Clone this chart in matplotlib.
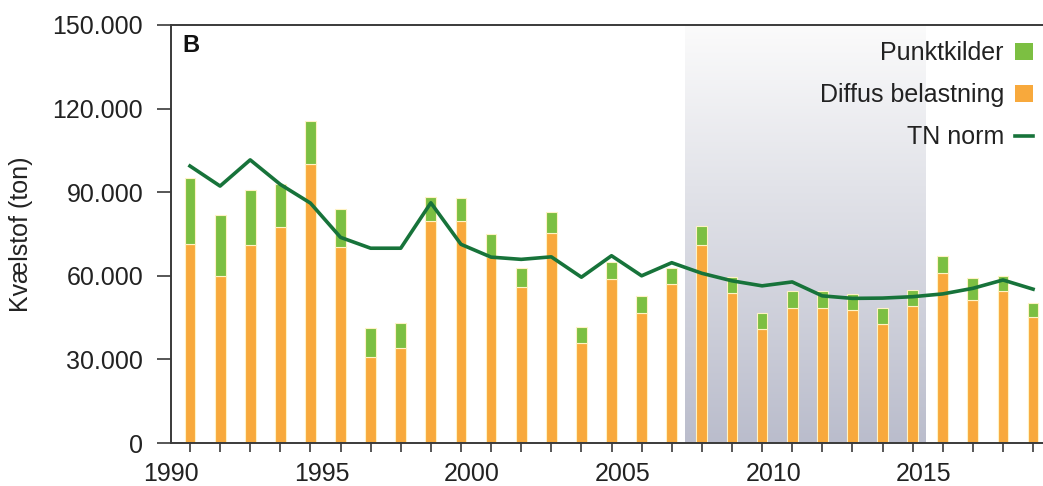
import numpy as np
import matplotlib
matplotlib.use("Agg")
import matplotlib.pyplot as plt
from matplotlib.patches import Patch
from matplotlib.lines import Line2D
from matplotlib.ticker import FuncFormatter

plt.rcParams['font.family'] = ['Liberation Sans', 'DejaVu Sans']

years = list(range(1990, 2019))
diffus = [71300, 60000, 71000, 77600, 100100, 70200, 31000, 34000, 79800, 79700,
          66600, 56100, 75500, 35800, 58900, 46800, 56900, 71100, 53700, 40800,
          48600, 48600, 47700, 42600, 49200, 61100, 51300, 54500, 45100]
total = [95000, 81800, 90800, 92900, 115700, 84000, 41200, 43000, 88400, 87800,
         74900, 62900, 83000, 41700, 65100, 52700, 62900, 78000, 59700, 46500,
         54700, 54500, 53400, 48300, 54900, 67200, 59300, 60000, 50100]
punkt = [t - d for t, d in zip(total, diffus)]
tn_norm = [99400, 92200, 101600, 92800, 86100, 73800, 69900, 69900, 86200, 71300,
           66700, 65900, 66800, 59500, 67200, 60000, 64700, 60900, 58200, 56400,
           57800, 52800, 51900, 52000, 52500, 53500, 55500, 58500, 55200]
label_years = [1990, 1995, 2000, 2005, 2010, 2015]
shade_span = (2006.45, 2014.45)

c_orange = '#f8a93c'
c_green = '#7cbf42'
c_line = '#17733a'
c_edge = '#fff3c4'

fig = plt.figure(figsize=(10.43, 4.86), dpi=100)
ax = fig.add_axes([171/1043, 43/486, 872/1043, 418/486])

# gradient shaded region
grad = np.linspace(0, 1, 256).reshape(-1, 1)
top = np.array([0.985, 0.985, 0.985])
bot = np.array([0.73, 0.74, 0.80])
img = top[None, None, :] * (1 - grad[:, :, None]) + bot[None, None, :] * grad[:, :, None]
ax.imshow(img, extent=[shade_span[0], shade_span[1], 0, 150000], aspect='auto',
          origin='upper', zorder=0)

w = 0.36
ax.bar(years, diffus, width=w, color=c_orange, edgecolor=c_edge, linewidth=0.8, zorder=2)
ax.bar(years, punkt, width=w, bottom=diffus, color=c_green, edgecolor=c_edge, linewidth=0.8, zorder=2)
ax.plot(years, tn_norm, color=c_line, lw=2.6, zorder=3, solid_joinstyle='round')

ax.set_xlim(1989.5, 2018.33)
ax.set_ylim(0, 150000)

ax.spines['right'].set_visible(False)
for s in ['left', 'bottom', 'top']:
    ax.spines[s].set_color('#3a3a3a')
    ax.spines[s].set_linewidth(1.4)

ax.set_yticks([0, 30000, 60000, 90000, 120000, 150000])
ax.yaxis.set_major_formatter(FuncFormatter(lambda v, p: f"{int(v):,}".replace(',', '.')))
ax.tick_params(axis='y', direction='out', length=10, width=1.2, color='#3a3a3a',
               labelsize=18, pad=10, labelcolor='#222222')

ax.set_xticks(years)
ax.set_xticklabels([])
ax.tick_params(axis='x', which='major', direction='out', length=6.5, width=1.2, color='#3a3a3a')
ax.set_xticks([y - 0.63 for y in label_years], minor=True)
ax.set_xticklabels([str(y) for y in label_years], minor=True)
ax.tick_params(axis='x', which='minor', length=0, labelsize=18, pad=14, labelcolor='#222222')

ax.set_ylabel('Kvælstof (ton)', fontsize=18, color='#222222')
ax.yaxis.set_label_coords(-0.158, 0.5)

ax.text(0.0126, 0.951, 'B', transform=ax.transAxes, fontsize=17, fontweight='bold',
        va='center', ha='left', color='#111111')

handles = [Patch(facecolor=c_green, edgecolor='none'),
           Patch(facecolor=c_orange, edgecolor='none'),
           Line2D([0], [0], color=c_line, lw=2.6)]
labels = ['Punktkilder', 'Diffus belastning', 'TN norm']
leg = ax.legend(handles, labels, loc='upper right', bbox_to_anchor=(0.9995, 0.985),
                frameon=False, markerfirst=False, fontsize=18, handlelength=0.7,
                handleheight=0.7, handletextpad=0.45, labelspacing=0.72, borderaxespad=0)
for t in leg.get_texts():
    t.set_color('#222222')

fig.savefig('out.png', dpi=100)
